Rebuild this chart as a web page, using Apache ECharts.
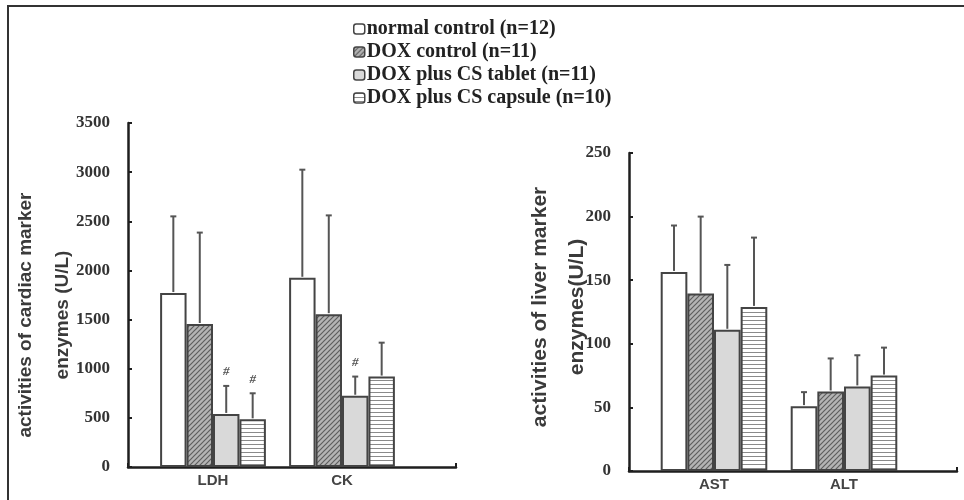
<!DOCTYPE html>
<html>
<head>
<meta charset="utf-8">
<script src="https://cdn.jsdelivr.net/npm/echarts@6/dist/echarts.min.js"></script>
<style>
  html, body { margin: 0; padding: 0; background: #fff; }
  #chart_container { width: 964px; height: 500px; }
</style>
</head>
<body>
<div id="chart_container"></div>
<script>
// categories
const cardiacCats = ['LDH', 'CK']
const liverCats = ['AST', 'ALT']
const groupNames = ['normal control (n=12)', 'DOX control (n=11)', 'DOX plus CS tablet (n=11)', 'DOX plus CS capsule (n=10)']

// cardiac enzymes (U/L): mean and SD
const cardNormal = [1770, 1925]
const cardNormalSd = [780, 1100]
const cardDox = [1455, 1555]
const cardDoxSd = [930, 1005]
const cardTablet = [540, 725]
const cardTabletSd = [285, 195]
const cardCapsule = [485, 920]
const cardCapsuleSd = [265, 345]
// '#' markers
const cardTabletSig = [1, 1]
const cardCapsuleSig = [1, 0]

// liver enzymes (U/L): mean and SD
const liverNormal = [156.5, 51]
const liverNormalSd = [36.5, 11]
const liverDox = [139.5, 62.5]
const liverDoxSd = [60.5, 26]
const liverTablet = [111, 66.5]
const liverTabletSd = [51, 24.5]
const liverCapsule = [129, 75]
const liverCapsuleSd = [54.5, 22]

// tick labels
const cardiacTicks = { min: 0, max: 3500, interval: 500 }
const liverTicks = { min: 0, max: 250, interval: 50 }

// fill patterns
function makeHatch() {
  let c = document.createElement('canvas')
  c.width = 5
  c.height = 5
  let ctx = c.getContext('2d')
  ctx.fillStyle = '#b4b4b4'
  ctx.fillRect(0, 0, 5, 5)
  ctx.strokeStyle = '#5e5e5e'
  ctx.lineWidth = 1.2
  ctx.beginPath()
  ctx.moveTo(0, 5); ctx.lineTo(5, 0)
  ctx.moveTo(-1, 1); ctx.lineTo(1, -1)
  ctx.moveTo(4, 6); ctx.lineTo(6, 4)
  ctx.stroke()
  return c
}
function makeStripes() {
  let c = document.createElement('canvas')
  c.width = 4
  c.height = 4
  let ctx = c.getContext('2d')
  ctx.fillStyle = '#ffffff'
  ctx.fillRect(0, 0, 4, 4)
  ctx.fillStyle = '#8a8a8a'
  ctx.fillRect(0, 0, 4, 1)
  return c
}
const fills = [
  '#ffffff',
  { image: makeHatch(), repeat: 'repeat' },
  '#d9d9d9',
  { image: makeStripes(), repeat: 'repeat' },
]

const axisColor = '#1e1e1e'
const catGap = 0.18

function frameAxes(gridIndex, ticks, name, nameGap, nameSize, namePad) {
  return {
    x: {
      gridIndex: gridIndex,
      type: 'value',
      min: 0,
      max: 1,
      interval: 1,
      axisLine: { lineStyle: { color: axisColor, width: 2.5 } },
      axisTick: { show: true, inside: true, length: 4, lineStyle: { color: axisColor, width: 2 } },
      axisLabel: { show: false },
      splitLine: { show: false },
    },
    y: {
      gridIndex: gridIndex,
      type: 'value',
      min: ticks.min,
      max: ticks.max,
      interval: ticks.interval,
      name: name,
      nameLocation: 'middle',
      nameGap: nameGap,
      nameRotate: 90,
      nameMoveOverlap: false,
      nameTextStyle: {
        fontFamily: 'Liberation Sans',
        fontWeight: 'bold',
        fontSize: nameSize,
        lineHeight: 37,
        color: '#3a3a3a',
        padding: namePad,
      },
      axisLine: { show: true, lineStyle: { color: axisColor, width: 2.5 } },
      axisTick: { show: true, inside: true, length: 4, lineStyle: { color: axisColor, width: 2 } },
      axisLabel: {
        margin: 18,
        formatter: (v) => String(v),
        fontFamily: 'Liberation Serif',
        fontWeight: 'bold',
        fontSize: 17,
        color: '#333',
      },
      splitLine: { show: false },
    },
  }
}

function barAxes(gridIndex, cats, ticks) {
  return {
    x: {
      gridIndex: gridIndex,
      type: 'category',
      data: cats,
      axisLine: { show: false },
      axisTick: { show: false },
      axisLabel: {
        margin: 6,
        fontFamily: 'Liberation Sans',
        fontWeight: 'bold',
        fontSize: 15,
        color: '#444',
      },
    },
    y: {
      gridIndex: gridIndex,
      type: 'value',
      show: false,
      min: ticks.min,
      max: ticks.max,
      interval: ticks.interval,
      splitLine: { show: false },
    },
  }
}

function barSeries(axisIndex, values) {
  return values.map((v, i) => ({
    name: groupNames[i],
    type: 'bar',
    xAxisIndex: axisIndex,
    yAxisIndex: axisIndex,
    data: v,
    barGap: '0%',
    barCategoryGap: catGap * 100 + '%',
    itemStyle: { color: fills[i], borderColor: '#444', borderWidth: 2 },
    emphasis: { disabled: true },
    z: 2,
  }))
}

function errorSeries(axisIndex, means, sds, sigs) {
  let data = []
  means.forEach((m, k) => {
    m.forEach((v, cat) => {
      data.push([cat, k, v, sds[k][cat], sigs[k] ? sigs[k][cat] : 0])
    })
  })
  return {
    type: 'custom',
    xAxisIndex: axisIndex,
    yAxisIndex: axisIndex,
    data: data,
    z: 3,
    silent: true,
    renderItem: function (params, api) {
      let cat = api.value(0)
      let k = api.value(1)
      let mean = api.value(2)
      let sd = api.value(3)
      let band = api.size([1, 0])[0]
      let barW = (band * (1 - catGap)) / 4
      let top = api.coord([cat, mean + sd])
      let base = api.coord([cat, mean])
      let x = top[0] + (k - 1.5) * barW
      let style = { stroke: '#555', lineWidth: 2 }
      let children = [
        { type: 'line', shape: { x1: x, y1: base[1] - 1, x2: x, y2: top[1] }, style: style },
        { type: 'line', shape: { x1: x - 3, y1: top[1], x2: x + 3, y2: top[1] }, style: style },
      ]
      if (api.value(4)) {
        children.push({
          type: 'text',
          style: {
            text: '#',
            x: x,
            y: top[1] - 14,
            align: 'center',
            verticalAlign: 'middle',
            fontFamily: 'Liberation Serif',
            fontStyle: 'italic',
            fontWeight: 'bold',
            fontSize: 13,
            fill: '#555',
          },
        })
      }
      return { type: 'group', children: children }
    },
  }
}

let leftFrame = frameAxes(0, cardiacTicks, 'activities of cardiac marker\nenzymes (U/L)', 47, 19, [0, 40, 0, 0])
let rightFrame = frameAxes(1, liverTicks, 'activities of liver marker\nenzymes(U/L)', 33, 21, [0, 0, 0, 10])
let leftBars = barAxes(2, cardiacCats, cardiacTicks)
let rightBars = barAxes(3, liverCats, liverTicks)

let option = {
  animation: false,
  backgroundColor: '#fff',
  legend: {
    orient: 'vertical',
    left: 348,
    top: 14,
    itemWidth: 11,
    itemHeight: 10,
    itemGap: 3,
    icon: 'roundRect',
    data: groupNames,
    textStyle: {
      fontFamily: 'Liberation Serif',
      fontWeight: 'bold',
      fontSize: 20,
      lineHeight: 20,
      color: '#222',
      padding: [0, 0, 0, -3],
    },
    itemStyle: { borderColor: '#444', borderWidth: 1.5 },
  },
  graphic: [
    {
      type: 'rect',
      shape: { x: 8, y: 6, width: 980, height: 520 },
      style: { fill: 'none', stroke: '#333', lineWidth: 2 },
      silent: true,
    },
  ],
  grid: [
    { left: 128, top: 123, width: 328, height: 344 },
    { left: 629, top: 153, width: 328, height: 318 },
    { left: 148.5, top: 123, width: 258, height: 344 },
    { left: 649, top: 153, width: 260, height: 318 },
  ],
  xAxis: [leftFrame.x, rightFrame.x, leftBars.x, rightBars.x],
  yAxis: [leftFrame.y, rightFrame.y, leftBars.y, rightBars.y],
  series: [
    ...barSeries(2, [cardNormal, cardDox, cardTablet, cardCapsule]),
    ...barSeries(3, [liverNormal, liverDox, liverTablet, liverCapsule]),
    errorSeries(
      2,
      [cardNormal, cardDox, cardTablet, cardCapsule],
      [cardNormalSd, cardDoxSd, cardTabletSd, cardCapsuleSd],
      [null, null, cardTabletSig, cardCapsuleSig]
    ),
    errorSeries(
      3,
      [liverNormal, liverDox, liverTablet, liverCapsule],
      [liverNormalSd, liverDoxSd, liverTabletSd, liverCapsuleSd],
      [null, null, null, null]
    ),
  ],
}

let chartPlot = echarts.init(document.getElementById('chart_container'))
chartPlot.setOption(option)
</script>
</body>
</html>
